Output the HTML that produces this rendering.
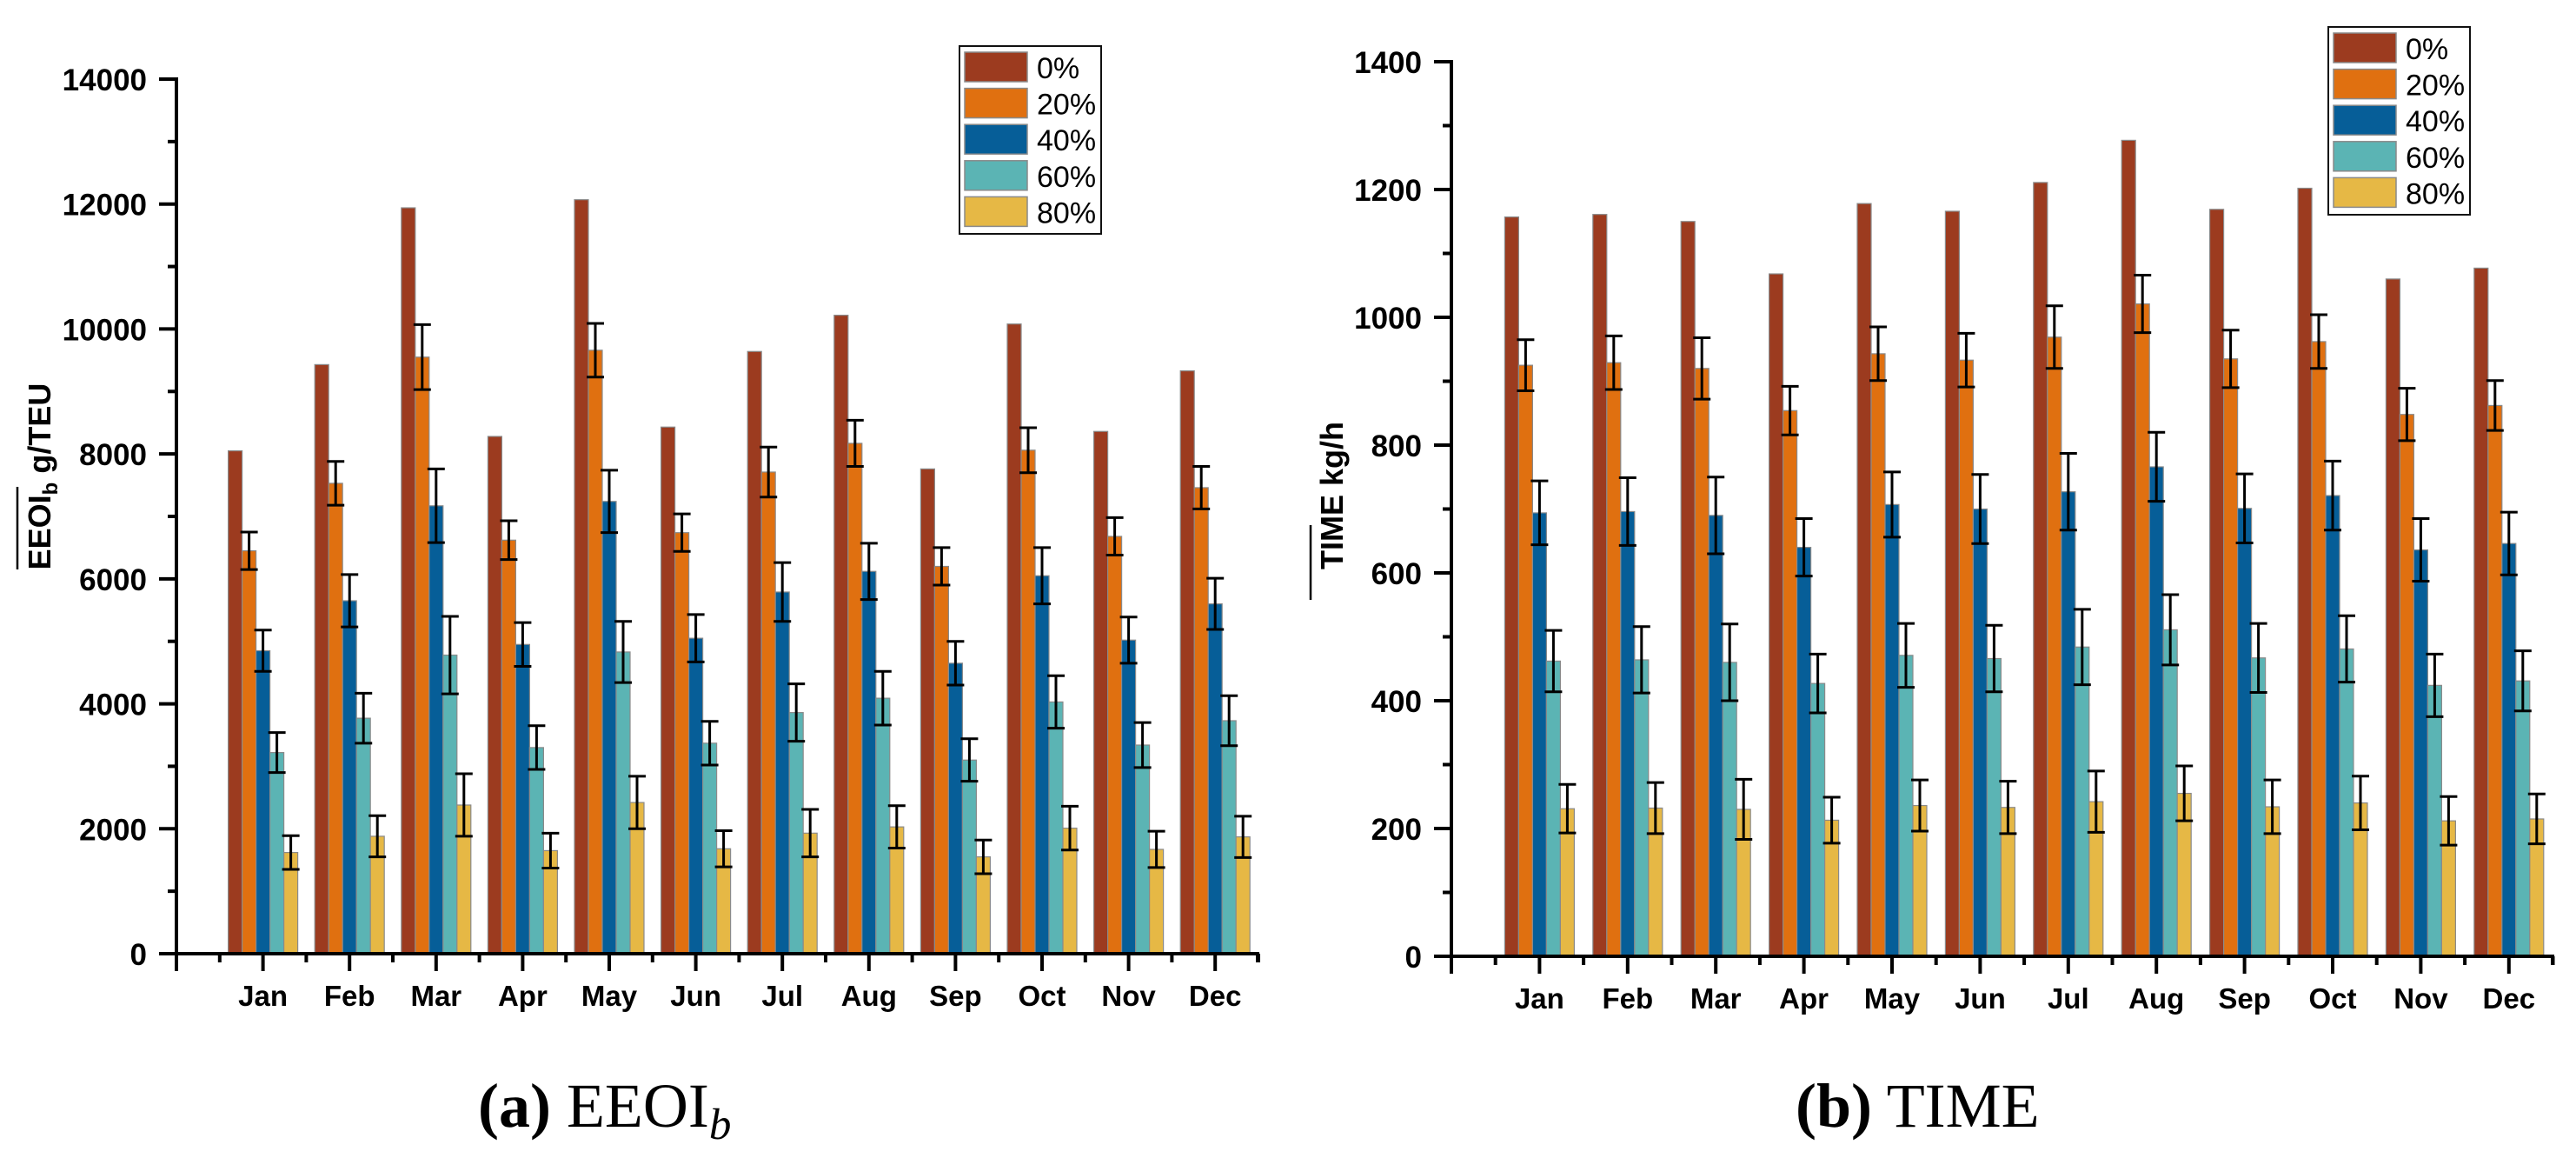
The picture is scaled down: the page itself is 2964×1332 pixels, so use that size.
<!DOCTYPE html>
<html><head><meta charset="utf-8"><style>
html,body{margin:0;padding:0;background:#fff;}
svg{display:block;font-family:"Liberation Sans",Arial,sans-serif;}
.cap{font-family:"Liberation Serif","DejaVu Serif",serif;}
</style></head><body>
<svg id="fig" width="2964" height="1332" viewBox="0 0 2964 1332" xmlns="http://www.w3.org/2000/svg">
<g id="chartA"></g>
<g id="chartB"></g>
<text class="cap" x="550" y="1296" font-size="72"><tspan font-weight="bold">(a)</tspan> EEOI<tspan font-style="italic" font-size="51" dy="14">b</tspan></text>
<text class="cap" x="2066" y="1296" font-size="72"><tspan font-weight="bold">(b)</tspan> TIME</text>
</svg>
<script>
const months = ["Jan","Feb","Mar","Apr","May","Jun","Jul","Aug","Sep","Oct","Nov","Dec"];
const seriesNames = ["0%","20%","40%","60%","80%"];
const colors = ["#9C3B1F","#E07010","#065E98","#5BB4B4","#E6B845"];

const eeoi0  = [8050,9430,11940,8280,12070,8430,9640,10220,7760,10080,8360,9330];
const eeoi20 = [6450,7530,9550,6620,9660,6740,7710,8170,6200,8060,6680,7460];
const eeoi40 = [4850,5650,7170,4950,7240,5050,5790,6120,4650,6050,5020,5600];
const eeoi60 = [3220,3770,4780,3300,4830,3370,3860,4090,3100,4030,3340,3730];
const eeoi80 = [1620,1880,2380,1650,2420,1680,1930,2030,1550,2010,1670,1870];
const eeoiErr20 = [300,350,520,310,430,300,400,370,300,360,300,340];
const eeoiErr40 = [330,420,590,350,500,380,470,450,350,450,370,410];
const eeoiErr60 = [320,400,620,350,490,350,460,430,340,420,360,400];
const eeoiErr80 = [270,330,500,280,420,290,380,340,270,350,290,330];
const eeoiTicks = [0,2000,4000,6000,8000,10000,12000,14000];

const time0  = [1157,1161,1150,1068,1178,1166,1211,1277,1169,1202,1060,1077];
const time20 = [925,929,920,854,943,933,969,1021,935,962,848,862];
const time40 = [694,696,690,640,707,700,727,766,701,721,636,646];
const time60 = [462,464,460,427,471,466,484,511,467,481,424,431];
const time80 = [231,232,230,213,236,233,242,255,234,240,212,215];
const timeErr20 = [40,42,48,38,42,42,49,45,45,42,41,39];
const timeErr40 = [50,53,60,45,51,54,60,54,54,54,49,49];
const timeErr60 = [48,52,60,46,50,52,59,55,54,52,49,47];
const timeErr80 = [38,40,47,36,40,41,48,43,42,42,38,39];
const timeTicks = [0,200,400,600,800,1000,1200,1400];

const NS = "http://www.w3.org/2000/svg";
function mk(tag, attrs, parent){
  const e = document.createElementNS(NS, tag);
  for (const k in attrs) e.setAttribute(k, attrs[k]);
  parent.appendChild(e); return e;
}

function drawChart(g, cfg){
  const {ax, y0, yTop, ymax, step, unitW, xEnd, series, errs, ticks, key} = cfg;
  const yS = v => y0 - v / ymax * (y0 - yTop);
  const xS = i => ax + (i + 1) * unitW;
  const bw = 16;
  for (let i = 0; i < months.length; i++) {
    for (let s = 0; s < 5; s++) {
      const v = series[s][i];
      const x = xS(i) - 2.5 * bw + s * bw;
      const r = mk("rect", {x: x, y: yS(v), width: bw, height: y0 - yS(v), fill: colors[s], stroke: "#8a8a8a", "stroke-width": 1.2}, g);
      
      
      if (s > 0) {
        const e = errs[s - 1][i];
        const cx = x + bw / 2;
        const eg = mk("g", {stroke: "#000", "stroke-width": 3}, g);
        
        
        mk("line", {x1: cx, x2: cx, y1: yS(v + e), y2: yS(v - e)}, eg);
        mk("line", {x1: cx - 10, x2: cx + 10, y1: yS(v + e), y2: yS(v + e)}, eg);
        mk("line", {x1: cx - 10, x2: cx + 10, y1: yS(v - e), y2: yS(v - e)}, eg);
      }
    }
  }
  const axes = mk("g", {stroke: "#000", "stroke-width": 4, fill: "none"}, g);
  
  
  mk("line", {x1: ax, x2: ax, y1: yTop - 2, y2: y0 + 2}, axes);
  mk("line", {x1: ax - 2, x2: xEnd, y1: y0, y2: y0}, axes);
  for (let t = 0; t < ticks.length; t++) {
    const y = yS(ticks[t]);
    mk("line", {x1: ax - 20, x2: ax, y1: y, y2: y}, axes);
    if (t < ticks.length - 1) {
      const ym = yS(ticks[t] + step / 2);
      mk("line", {x1: ax - 10, x2: ax, y1: ym, y2: ym}, axes);
    }
    const tl = mk("text", {x: ax - 34, y: y + 13, "text-anchor": "end", "font-size": 35, "font-weight": "bold"}, g);
    tl.textContent = ticks[t];
    
    
  }
  mk("line", {x1: ax, x2: ax, y1: y0, y2: y0 + 20}, axes);
  for (let i = 0; i < months.length; i++) {
    const x = xS(i);
    mk("line", {x1: x, x2: x, y1: y0, y2: y0 + 20}, axes);
    mk("line", {x1: x - unitW / 2, x2: x - unitW / 2, y1: y0, y2: y0 + 10}, axes);
    const xl = mk("text", {x: x, y: y0 + 60, "text-anchor": "middle", "font-size": 33, "font-weight": "bold"}, g);
    xl.textContent = months[i];
    
    
  }
  mk("line", {x1: xEnd - 2, x2: xEnd - 2, y1: y0, y2: y0 + 10}, axes);
  mk("line", {x1: xS(11) + unitW / 2, x2: xS(11) + unitW / 2, y1: y0, y2: y0 + 10}, axes);
}

function drawLegend(g, lx, ly, key){
  const lg = mk("g", {}, g);
  
  
  mk("rect", {x: lx, y: ly, width: 163, height: 216, fill: "#fff", stroke: "#111", "stroke-width": 2}, lg);
  for (let s = 0; s < 5; s++) {
    const ent = mk("g", {}, lg);
    
    
    mk("rect", {x: lx + 6, y: ly + 7 + s * 41.6, width: 72, height: 34, fill: colors[s], stroke: "#8a8a8a", "stroke-width": 1.5}, ent);
    const t = mk("text", {x: lx + 89, y: ly + 37 + s * 41.6, "font-size": 34}, ent);
    t.textContent = seriesNames[s];
  }
}

const gA = document.getElementById("chartA");
drawChart(gA, {ax: 203, y0: 1097, yTop: 91, ymax: 14000, step: 2000, unitW: 99.6, xEnd: 1449,
  series: [eeoi0, eeoi20, eeoi40, eeoi60, eeoi80], errs: [eeoiErr20, eeoiErr40, eeoiErr60, eeoiErr80], ticks: eeoiTicks, key: "eeoi"});
drawLegend(gA, 1104, 53, "eeoi");

const gB = document.getElementById("chartB");
drawChart(gB, {ax: 1670, y0: 1100, yTop: 71, ymax: 1400, step: 200, unitW: 101.4, xEnd: 2939,
  series: [time0, time20, time40, time60, time80], errs: [timeErr20, timeErr40, timeErr60, timeErr80], ticks: timeTicks, key: "time"});
drawLegend(gB, 2679, 31, "time");

const svg = document.getElementById("fig");
const ta = mk("text", {transform: "translate(58,548) rotate(-90)", "text-anchor": "middle", "font-size": 36, "font-weight": "bold"}, svg);


ta.setAttribute("xml:space", "preserve");
ta.innerHTML = 'EEOI<tspan font-size="24" dy="8">b</tspan><tspan dy="-8">  g/TEU</tspan>';
const oa = mk("line", {x1: 20, x2: 20, y1: 560, y2: 655, stroke: "#000", "stroke-width": 2.5}, svg);



const tb = mk("text", {transform: "translate(1545,570) rotate(-90)", "text-anchor": "middle", "font-size": 36, "font-weight": "bold"}, svg);


tb.setAttribute("xml:space", "preserve");
tb.textContent = "TIME  kg/h";
const ob = mk("line", {x1: 1508, x2: 1508, y1: 604, y2: 690, stroke: "#000", "stroke-width": 2.5}, svg);


</script>
</body></html>
